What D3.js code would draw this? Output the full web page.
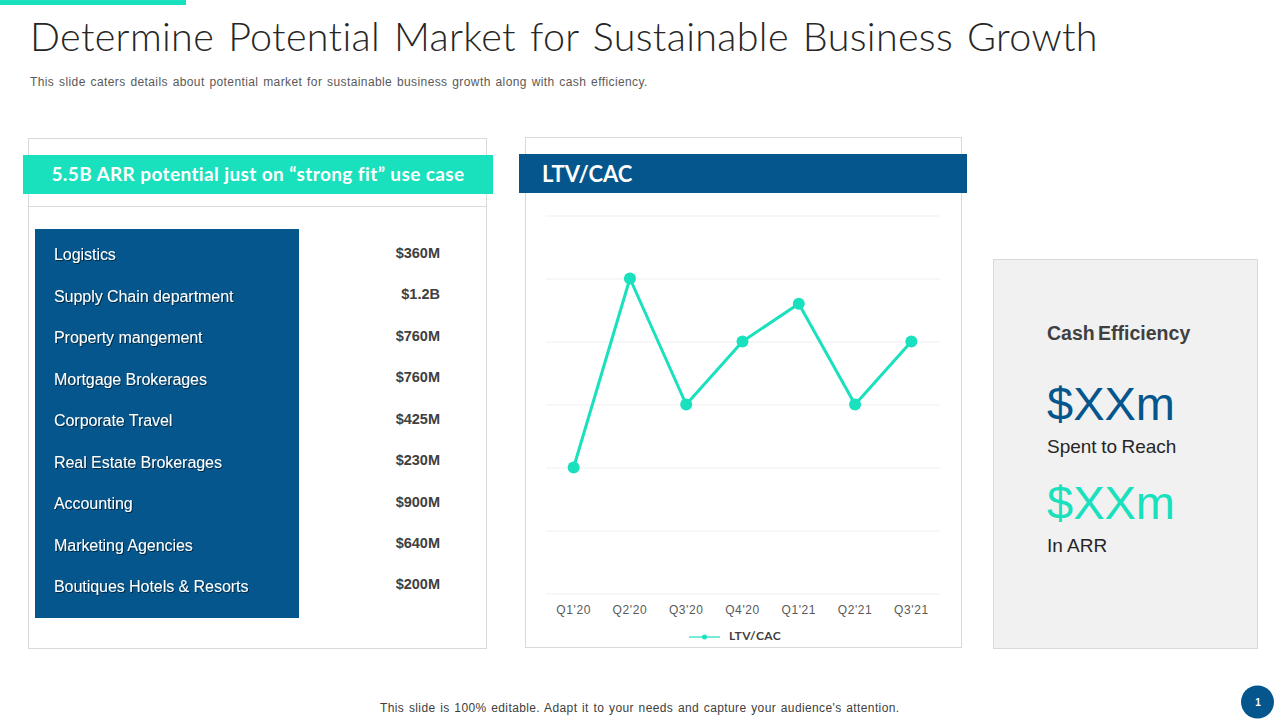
<!DOCTYPE html>
<html><head><meta charset="utf-8">
<script src="https://cdn.jsdelivr.net/npm/d3@7"></script>
<style>
html,body{margin:0;padding:0;background:#fff;overflow:hidden}
svg{display:block}
text{font-family:"Liberation Sans",Arial,sans-serif}
.geo{font-family:Lato,"Open Sans",sans-serif}
</style></head><body>
<svg id="c" width="1280" height="720"></svg>
<script>
const quarters=["Q1'20","Q2'20","Q3'20","Q4'20","Q1'21","Q2'21","Q3'21"];
const ltvCac=[2,5,3,4,4.6,3,4];
const yTicks=[0,1,2,3,4,5,6];
const useCases=["Logistics","Supply Chain department","Property mangement","Mortgage Brokerages","Corporate Travel","Real Estate Brokerages","Accounting","Marketing Agencies","Boutiques Hotels & Resorts"];
const useCaseValues=["$360M","$1.2B","$760M","$760M","$425M","$230M","$900M","$640M","$200M"];
const labelY=[254,296,337,379,420,462,503,545,586];
const valueY=[252,293,335,376,418,459,501,542,583];

const teal="#19e0bd", navy="#05568c", border="#d9d9d9";
const svg=d3.select("#c");
const defs=svg.append("defs");
const f=defs.append("filter").attr("id","ts").attr("x","-5%").attr("y","-20%").attr("width","110%").attr("height","150%");
f.append("feDropShadow").attr("dx",1).attr("dy",1).attr("stdDeviation",0.7).attr("flood-color","#000").attr("flood-opacity",0.55);

function rect(x,y,w,h,fill,stroke){return svg.append("rect").attr("x",x).attr("y",y).attr("width",w).attr("height",h).attr("fill",fill).attr("stroke",stroke||"none");}
function text(x,y,s,size,fill,opts={}){
  const t=svg.append("text").attr("x",x).attr("y",y).attr("font-size",size).attr("fill",fill).text(s);
  if(opts.cls)t.attr("class",opts.cls);
  if(opts.weight)t.attr("font-weight",opts.weight);
  if(opts.anchor)t.attr("text-anchor",opts.anchor);
  if(opts.ls!=null)t.attr("letter-spacing",opts.ls);
  if(opts.ws!=null)t.attr("word-spacing",opts.ws);
  if(opts.filter)t.attr("filter",opts.filter);
  return t;
}

// header
rect(0,0,186,5,teal);
text(30,51,"Determine Potential Market for Sustainable Business Growth",39.5,"#262626",{cls:"geo",weight:300,ls:0.32,ws:3});
text(30,86,"This slide caters details about potential market for sustainable business growth along with cash efficiency.",12,"#595959",{ls:0.4,ws:1.05});

// left panel
rect(28.5,138.5,458,510,"#fff",border);
svg.append("line").attr("x1",28.5).attr("x2",486.5).attr("y1",206.5).attr("y2",206.5).attr("stroke",border);
rect(23,155,470,39,teal);
text(258,181,"5.5B ARR potential just on “strong fit” use case",19,"#fff",{cls:"geo",weight:700,anchor:"middle",ls:0.39});
rect(35,229,264,389,navy);
useCases.forEach((d,i)=>text(54,labelY[i]+6,d,16,"#fff",{filter:"url(#ts)",ls:-0.05}));
useCaseValues.forEach((d,i)=>text(440,valueY[i]+5.5,d,14.5,"#404040",{weight:700,anchor:"end"}));

// middle panel
rect(525.5,137.5,436,510,"#fff",border);
rect(519,154,448,39,navy);
text(542,182,"LTV/CAC",22,"#fff",{cls:"geo",weight:700});

const x=d3.scaleBand().domain(quarters).range([545.5,939.5]);
const y=d3.scaleLinear().domain([0,6]).range([593.5,215.5]);
const grid=svg.append("g").call(d3.axisLeft(y).tickValues(yTicks).tickSize(-394).tickFormat("")).attr("transform","translate(546,0)");
grid.select(".domain").remove();
grid.selectAll("line").attr("stroke","#efefef");
const xa=svg.append("g").attr("transform","translate(0,594)").call(d3.axisBottom(x).tickSize(0).tickPadding(11));
xa.select(".domain").remove();
xa.selectAll("text").attr("font-size",12).attr("fill","#595959").attr("font-family","Liberation Sans").attr("letter-spacing",0.6);

const cx=d=>x(d)+x.bandwidth()/2;
svg.append("path").datum(ltvCac).attr("fill","none").attr("stroke",teal).attr("stroke-width",3).attr("stroke-linejoin","round")
  .attr("d",d3.line().x((d,i)=>cx(quarters[i])).y(d=>y(d)));
svg.selectAll("circle.pt").data(ltvCac).join("circle").attr("class","pt").attr("cx",(d,i)=>cx(quarters[i])).attr("cy",d=>y(d)).attr("r",6).attr("fill",teal);

// legend
svg.append("line").attr("x1",689).attr("x2",720).attr("y1",637).attr("y2",637).attr("stroke",teal).attr("stroke-width",1.2);
svg.append("circle").attr("cx",704.5).attr("cy",637).attr("r",2.5).attr("fill",teal);
text(729,640,"LTV/CAC",12,"#404040",{cls:"geo",weight:700,ls:0.4});

// right panel
rect(993.5,259.5,264,389,"#f1f1f1",border);
text(1047,339.5,"Cash Efficiency",19.5,"#404040",{weight:700,ws:-2});
text(1047,420,"$XXm",47,navy);
text(1047,453,"Spent to Reach",19,"#262626",{ws:-0.8});
text(1047,519,"$XXm",47,teal);
text(1047,552,"In ARR",19,"#262626");

// footer
text(380,712,"This slide is 100% editable. Adapt it to your needs and capture your audience's attention.",12,"#404040",{ls:0.38,ws:1});
svg.append("circle").attr("cx",1257.5).attr("cy",702).attr("r",16.5).attr("fill",navy);
text(1258,706,"1",10,"#fff",{anchor:"middle",weight:700}).attr("font-family","Liberation Serif");
</script></body></html>
